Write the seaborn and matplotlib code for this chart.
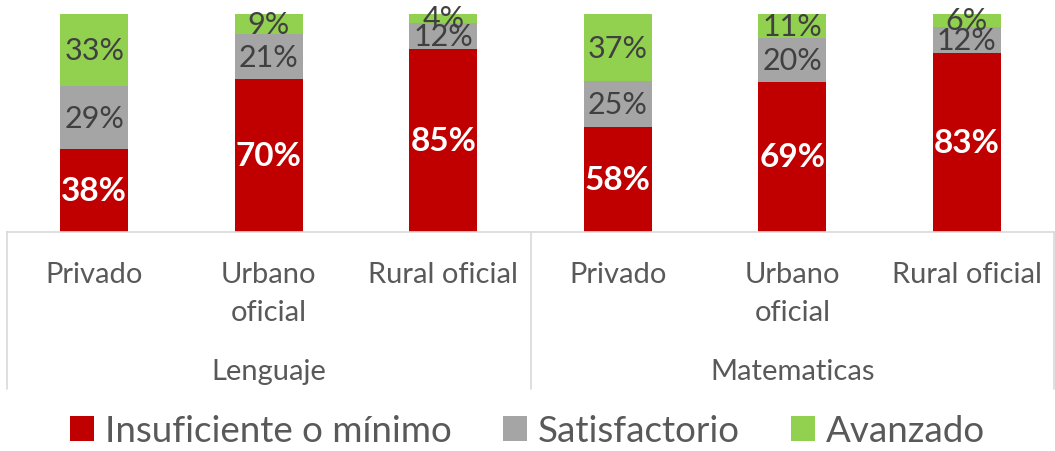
import matplotlib
matplotlib.use("Agg")
import matplotlib.pyplot as plt
import matplotlib.transforms as mtransforms
from matplotlib.patches import Patch
import seaborn as sns
import pandas as pd
import numpy as np

groups = ["Lenguaje", "Lenguaje", "Lenguaje", "Matematicas", "Matematicas", "Matematicas"]
categories = ["Privado", "Urbano\noficial", "Rural oficial", "Privado", "Urbano\noficial", "Rural oficial"]
insuficiente = [38, 70, 85, 58, 69, 83]
satisfactorio = [29, 21, 12, 25, 20, 12]
avanzado = [33, 9, 4, 37, 11, 6]
series_names = ["Insuficiente o mínimo", "Satisfactorio", "Avanzado"]
colors = ["#C00000", "#A5A5A5", "#92D050"]

sns.set_theme(style="white")
plt.rcParams["font.family"] = ["Lato", "DejaVu Sans"]

keys = [f"{g}-{c}" for g, c in zip(groups, categories)]
ins = np.array(insuficiente, float)
sat = np.array(satisfactorio, float)
ava = np.array(avanzado, float)
tot = ins + sat + ava
s_ins = ins / tot * 100
s_sat = sat / tot * 100
s_ava = ava / tot * 100

df = pd.DataFrame({
    "key": keys,
    "c1": s_ins,
    "c2": s_ins + s_sat,
    "c3": s_ins + s_sat + s_ava,
})

fig = plt.figure(figsize=(10.55, 4.52), dpi=100)
ax = fig.add_axes([7 / 1055, 1 - 233 / 452, 1047 / 1055, 218 / 452])

for col, colr in zip(["c3", "c2", "c1"], colors[::-1]):
    sns.barplot(data=df, x="key", y=col, order=keys, color=colr, width=0.39,
                linewidth=0, saturation=1, ax=ax, errorbar=None)

ax.set_xlim(-0.5, 5.5)
ax.set_ylim(0, 100)
ax.set_yticks([])
ax.set_ylabel("")
ax.set_xlabel("")
for s in ["top", "right", "left"]:
    ax.spines[s].set_visible(False)
ax.spines["bottom"].set_color("#D9D9D9")
ax.spines["bottom"].set_linewidth(1.2)

ax.set_xticks(range(len(keys)))
ax.set_xticklabels(categories, fontsize=21, color="#595959",
                   linespacing=1.55, va="top")
ax.tick_params(axis="x", length=0, pad=21)

# data labels
for i in range(len(keys)):
    ax.text(i, s_ins[i] / 2, f"{insuficiente[i]}%", ha="center", va="center",
            color="white", fontsize=24, fontweight="bold")
    ax.text(i, s_ins[i] + s_sat[i] / 2, f"{satisfactorio[i]}%", ha="center", va="center",
            color="#404040", fontsize=22)
    ax.text(i, s_ins[i] + s_sat[i] + s_ava[i] / 2, f"{avanzado[i]}%", ha="center", va="center",
            color="#404040", fontsize=22)

# group separators and group labels
trans = mtransforms.blended_transform_factory(ax.transData, ax.transAxes)
for xv in [-0.5, 2.5, 5.5]:
    ax.plot([xv, xv], [0, -157 / 218], transform=trans, color="#D9D9D9",
            linewidth=1.2, clip_on=False)
for gx, gname in [(1, "Lenguaje"), (4, "Matematicas")]:
    ax.text(gx, -(372 - 233) / 218, gname, transform=trans, ha="center", va="center",
            fontsize=21, color="#595959")

handles = [Patch(facecolor=c, edgecolor="none", label=n) for c, n in zip(colors, series_names)]
fig.legend(handles=handles, loc="center", bbox_to_anchor=(0.5, 1 - 432 / 452), ncol=3,
           frameon=False, fontsize=26.5, handlelength=0.65, handleheight=0.65,
           handletextpad=0.3, columnspacing=1.4, labelcolor="#595959")

fig.savefig("out.png", dpi=100)
